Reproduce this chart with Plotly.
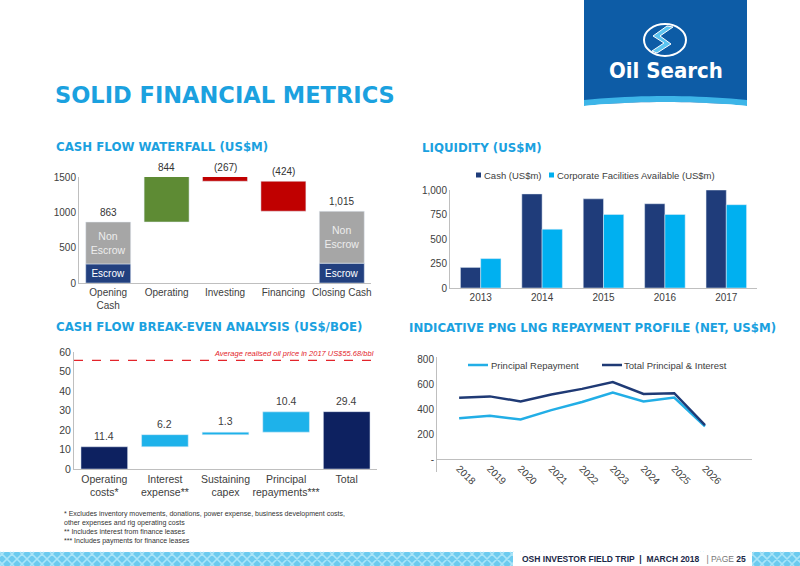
import plotly.graph_objects as go

W, H = 800, 566


def px(x):
    return x / W


def py(y):
    return 1 - y / H


# ---------------- DATA ----------------
# Cash flow waterfall (US$m)
wf_categories = ["Opening<br>Cash", "Operating", "Investing", "Financing", "Closing Cash"]
wf_opening = 863
wf_opening_escrow = 270
wf_flows = [844, -267, -424]
wf_closing = 1015
wf_closing_escrow = 280
wf_labels = ["863", "844", "(267)", "(424)", "1,015"]

# Liquidity (US$m)
liq_years = ["2013", "2014", "2015", "2016", "2017"]
liq_cash = [210, 960, 910, 860, 1000]
liq_facilities = [300, 600, 750, 750, 850]
liq_names = ["Cash (US$m)", "Corporate Facilities Available (US$m)"]

# Cash flow break-even (US$/boe)
be_categories = ["Operating<br>costs*", "Interest<br>expense**", "Sustaining<br>capex",
                 "Principal<br>repayments***", "Total"]
be_values = [11.4, 6.2, 1.3, 10.4, 29.4]
be_oil_price = 55.68

# PNG LNG repayment profile (US$m)
rep_years = [2018, 2019, 2020, 2021, 2022, 2023, 2024, 2025, 2026]
rep_principal = [330, 350, 320, 395, 460, 535, 465, 495, 265]
rep_total = [495, 505, 465, 520, 565, 620, 525, 530, 275]
rep_names = ["Principal Repayment", "Total Principal & Interest"]

# ---------------- STYLE ----------------
FONT = "Liberation Sans, Arial, sans-serif"
HEAVY = "DejaVu Sans, Liberation Sans, sans-serif"
TXT = "#404040"
AXIS = "#BFBFBF"
TITLE_BLUE = "#1BA1DF"
NAVY_WF = "#22407F"
GREY_WF = "#A6A6A6"
GREEN = "#5E8B34"
RED = "#C00000"
NAVY_LIQ = "#1F3C7A"
LIGHT = "#00B0F0"
NAVY_BE = "#0D2160"
LIGHT_BE = "#1EB2EA"
NAVY_REP = "#1F3A75"
LIGHT_REP = "#22AEE6"

fig = go.Figure()
annotations = []
shapes = []

# ---------- Waterfall ----------
cum = [wf_opening]
for f in wf_flows:
    cum.append(cum[-1] + f)
flow_base = [min(cum[i], cum[i + 1]) for i in range(len(wf_flows))]
flow_height = [abs(f) for f in wf_flows]
flow_colors = [GREEN if f > 0 else RED for f in wf_flows]

fig.add_trace(go.Bar(
    x=[wf_categories[0], wf_categories[4]], y=[wf_opening_escrow, wf_closing_escrow],
    marker_color=NAVY_WF, width=0.77, text=["Escrow", "Escrow"],
    textposition="inside", insidetextanchor="middle", textangle=0,
    textfont=dict(color="white", size=10, family=FONT),
    xaxis="x", yaxis="y", showlegend=False, hoverinfo="skip"))
fig.add_trace(go.Bar(
    x=[wf_categories[0], wf_categories[4]],
    y=[wf_opening - wf_opening_escrow, wf_closing - wf_closing_escrow],
    base=[wf_opening_escrow, wf_closing_escrow],
    marker_color=GREY_WF, width=0.77, text=["Non<br>Escrow", "Non<br>Escrow"],
    textposition="inside", insidetextanchor="middle", textangle=0,
    textfont=dict(color="#EDEDED", size=10.5, family=FONT),
    xaxis="x", yaxis="y", showlegend=False, hoverinfo="skip"))
fig.add_trace(go.Bar(
    x=wf_categories[1:4], y=flow_height, base=flow_base,
    marker_color=flow_colors, width=0.77,
    xaxis="x", yaxis="y", showlegend=False, hoverinfo="skip"))

wf_tops = [wf_opening] + [max(cum[i], cum[i + 1]) for i in range(len(wf_flows))] + [wf_closing]
for cat, top, lab in zip(wf_categories, wf_tops, wf_labels):
    annotations.append(dict(
        x=cat, y=min(top, 1500), xref="x", yref="y", text=lab, showarrow=False,
        yanchor="bottom", yshift=2, font=dict(size=10, color="#333333", family=FONT)))

# ---------- Liquidity ----------
fig.add_trace(go.Bar(
    x=liq_years, y=liq_cash, name=liq_names[0], marker_color=NAVY_LIQ,
    width=0.33, offset=-0.33, xaxis="x2", yaxis="y2", showlegend=False))
fig.add_trace(go.Bar(
    x=liq_years, y=liq_facilities, name=liq_names[1],
    marker_color=LIGHT, width=0.33, offset=0.0, xaxis="x2", yaxis="y2", showlegend=False))
# legend (drawn as key + text)
for (sx, tx), col, name in zip([(476, 482), (549, 555)], [NAVY_LIQ, LIGHT], liq_names):
    shapes.append(dict(type="rect", xref="paper", yref="paper", x0=px(sx), x1=px(sx + 5),
                       y0=py(177.5), y1=py(172.5), fillcolor=col, line_width=0))
    annotations.append(dict(x=px(tx), y=py(175), xref="paper", yref="paper", text=name,
                            xanchor="left", yanchor="middle", showarrow=False,
                            font=dict(size=9.5, color=TXT, family=FONT)))

# ---------- Break-even ----------
be_base = [0]
running = be_values[0]
for v in be_values[1:-1]:
    be_base.append(running)
    running += v
be_base.append(0)
be_colors = [NAVY_BE] + [LIGHT_BE] * (len(be_values) - 2) + [NAVY_BE]
fig.add_trace(go.Bar(
    x=be_categories, y=be_values, base=be_base, marker_color=be_colors, width=0.77,
    xaxis="x3", yaxis="y3", showlegend=False, hoverinfo="skip"))
for cat, b, v in zip(be_categories, be_base, be_values):
    annotations.append(dict(
        x=cat, y=b + v, xref="x3", yref="y3", text=f"{v:.1f}", showarrow=False,
        yanchor="bottom", yshift=3, font=dict(size=10.5, color=TXT, family=FONT)))

# ---------- Repayment ----------
fig.add_trace(go.Scatter(
    x=rep_years, y=rep_principal, mode="lines", name=rep_names[0],
    line=dict(color=LIGHT_REP, width=2.5), xaxis="x4", yaxis="y4", showlegend=False))
fig.add_trace(go.Scatter(
    x=rep_years, y=rep_total, mode="lines", name=rep_names[1],
    line=dict(color=NAVY_REP, width=2.5), xaxis="x4", yaxis="y4", showlegend=False))
for (sx, tx), col, name in zip([(468, 489), (602, 622)], [LIGHT_REP, NAVY_REP], rep_names):
    shapes.append(dict(type="line", xref="paper", yref="paper", x0=px(sx), x1=px(sx + 20),
                       y0=py(365), y1=py(365), line=dict(color=col, width=2.5)))
    annotations.append(dict(x=px(tx), y=py(365), xref="paper", yref="paper", text=name,
                            xanchor="left", yanchor="middle", showarrow=False,
                            font=dict(size=9.5, color=TXT, family=FONT)))

tickfont = dict(size=10, color=TXT, family=FONT)
ax_common = dict(showgrid=False, zeroline=False, showline=True, linecolor=AXIS,
                 linewidth=1, ticks="", tickfont=tickfont, fixedrange=True, automargin=False)
tf105 = dict(size=10.5, color=TXT, family=FONT)

layout = dict(
    width=W, height=H, margin=dict(l=0, r=0, t=0, b=0, pad=0), autosize=False,
    paper_bgcolor="white", plot_bgcolor="white", barmode="overlay", showlegend=False,
    font=dict(family=FONT, color=TXT),
    xaxis=dict(domain=[px(79), px(371)], anchor="y", categoryorder="array",
               categoryarray=wf_categories, **ax_common),
    yaxis=dict(domain=[py(283), py(177)], anchor="x", range=[0, 1500],
               tickvals=[0, 500, 1000, 1500], **ax_common),
    xaxis2=dict(domain=[px(450), px(757)], anchor="y2", **ax_common),
    yaxis2=dict(domain=[py(288), py(190)], anchor="x2", range=[0, 1000],
                tickvals=[0, 250, 500, 750, 1000], tickformat=",", **ax_common),
    xaxis3=dict(domain=[px(74), px(377)], anchor="y3", **{**ax_common, "tickfont": tf105}),
    yaxis3=dict(domain=[py(469), py(352)], anchor="x3", range=[0, 60],
                tickvals=[0, 10, 20, 30, 40, 50, 60], **{**ax_common, "tickfont": tf105}),
    xaxis4=dict(domain=[px(437), px(752)], anchor="free", position=py(460),
                range=[2017.28, 2027.53],
                tickvals=rep_years, ticktext=[str(y) for y in rep_years], tickangle=45,
                showgrid=False, zeroline=False, showline=False, ticks="", automargin=False,
                tickfont=dict(size=10, color=TXT, family=FONT), fixedrange=True),
    yaxis4=dict(domain=[py(472), py(357)], anchor="x4", range=[-100, 820],
                tickvals=[0, 200, 400, 600, 800], ticktext=["-", "200", "400", "600", "800"],
                showgrid=False, zeroline=True, zerolinecolor=AXIS, zerolinewidth=1,
                showline=True, linecolor=AXIS, ticks="", automargin=False,
                tickfont=dict(size=10, color=TXT, family=FONT), fixedrange=True),
)

# oil price reference line
shapes.append(dict(type="line", xref="x3 domain", yref="y3", x0=0, x1=1,
                   y0=be_oil_price, y1=be_oil_price,
                   line=dict(color="#E3242B", width=1.2, dash="dash")))
annotations.append(dict(x=1, y=be_oil_price, xref="x3 domain", yref="y3",
                        text=f"<i>Average realised oil price in 2017 US${be_oil_price:.2f}/bbl</i>",
                        showarrow=False, xanchor="right", yanchor="bottom", yshift=0, xshift=-1,
                        font=dict(size=7.5, color="#E3242B", family=FONT)))

# Logo block
shapes.append(dict(type="rect", xref="paper", yref="paper", x0=px(584), x1=px(747),
                   y0=py(104), y1=py(0), fillcolor="#0D5CA6", line_width=0, layer="below"))


def pth(points):
    return "M " + " L ".join(f"{px(x):.5f},{py(y):.5f}" for x, y in points) + " Z"


wave_top = [(584 + i * 163 / 20, 100 + 4 * ((i - 10) / 10) ** 2 - 4) for i in range(21)]
wave_bot = [(584 + i * 163 / 20, 106 + 4 * ((i - 10) / 10) ** 2 - 4) for i in range(21)]
shapes.append(dict(type="path", xref="paper", yref="paper",
                   path=pth(wave_top + wave_bot[::-1]), fillcolor="#3DB5E8", line_width=0))
shapes.append(dict(type="path", xref="paper", yref="paper",
                   path=pth(wave_bot + [(747, 112), (584, 112)]), fillcolor="white", line_width=0))
# emblem
shapes.append(dict(type="circle", xref="paper", yref="paper", x0=px(644), x1=px(686),
                   y0=py(56), y1=py(24), fillcolor="#0D5CA6", line=dict(color="white", width=2)))
shapes.append(dict(type="path", xref="paper", yref="paper",
                   path=pth([(673, 27), (660, 36), (671, 44), (657, 53), (652, 51), (664, 43), (653, 36), (667, 26)]),
                   fillcolor="#5BC4F0", line=dict(color="white", width=1)))
annotations.append(dict(x=px(666), y=py(70), xref="paper", yref="paper", text="<b>Oil Search</b>",
                        xanchor="center", yanchor="middle",
                        showarrow=False, font=dict(size=22, color="white",
                                                   family="Liberation Sans Narrow, DejaVu Sans Condensed, Arial Narrow, sans-serif")))

# Footer band with woven texture
shapes.append(dict(type="rect", xref="paper", yref="paper", x0=0, x1=1, y0=0, y1=py(552),
                   fillcolor="#6CCBEF", line_width=0))
segs = []
for x0 in range(-20, 810, 10):
    segs.append(f"M {px(x0):.5f},{py(566):.5f} L {px(x0 + 14):.5f},{py(552):.5f}")
    segs.append(f"M {px(x0):.5f},{py(552):.5f} L {px(x0 + 14):.5f},{py(566):.5f}")
shapes.append(dict(type="path", xref="paper", yref="paper", path=" ".join(segs),
                   line=dict(color="#A9E4F8", width=1.6)))
shapes.append(dict(type="rect", xref="paper", yref="paper", x0=px(513), x1=px(752), y0=0,
                   y1=py(552), fillcolor="white", line_width=0))
annotations.append(dict(x=px(634), y=py(559), xref="paper", yref="paper",
                        xanchor="center", yanchor="middle",
                        text="<b>OSH INVESTOR FIELD TRIP  |  MARCH 2018</b>   <span style='color:#777'>| PAGE</span> <b>25</b>",
                        showarrow=False, font=dict(size=8.5, color="#1B2847", family=FONT)))

# Titles
annotations.append(dict(x=px(53), y=py(95), xref="paper", yref="paper", xanchor="left",
                        yanchor="middle",
                        text="<b>SOLID FINANCIAL METRICS</b>", showarrow=False,
                        font=dict(size=22.5, color=TITLE_BLUE, family=HEAVY)))
for txt, x, y in [("CASH FLOW WATERFALL (US$M)", 54, 147),
                  ("LIQUIDITY (US$M)", 420, 148),
                  ("CASH FLOW BREAK-EVEN ANALYSIS (US$/BOE)", 54, 327),
                  ("INDICATIVE PNG LNG REPAYMENT PROFILE (NET, US$M)", 407, 328)]:
    annotations.append(dict(x=px(x), y=py(y), xref="paper", yref="paper", xanchor="left",
                            yanchor="middle",
                            text=f"<b>{txt}</b>", showarrow=False,
                            font=dict(size=11.8, color=TITLE_BLUE, family=HEAVY)))

# Footnotes
annotations.append(dict(x=px(62), y=py(508), xref="paper", yref="paper", xanchor="left",
                        yanchor="top", align="left", showarrow=False,
                        text="* Excludes inventory movements, donations, power expense, business development costs,<br>"
                             "other expenses and rig operating costs<br>"
                             "** Includes interest from finance leases<br>"
                             "*** Includes payments for finance leases",
                        font=dict(size=7, color="#333333", family=FONT)))

layout["shapes"] = shapes
layout["annotations"] = annotations
fig.update_layout(**layout)
fig.write_html("out.html", config={"responsive": False, "displayModeBar": False},
               post_script="document.body.style.margin='0px';document.body.style.overflow='hidden';")
